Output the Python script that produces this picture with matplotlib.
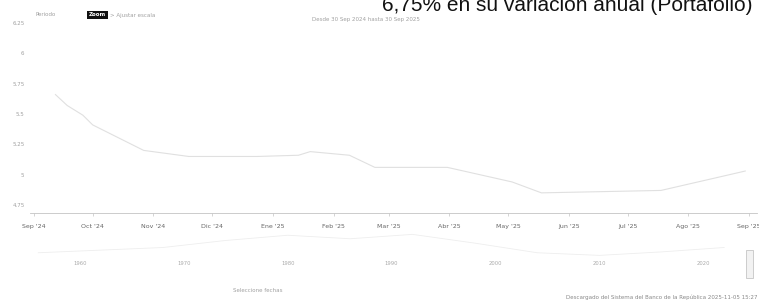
import matplotlib
matplotlib.use("Agg")
import matplotlib.pyplot as plt
from matplotlib.patches import Rectangle
from datetime import datetime

W, H = 759, 307

# serie principal (variación anual, %)
fechas = ["2024-09-12", "2024-09-18", "2024-09-26", "2024-10-01", "2024-10-27",
          "2024-11-19", "2024-12-24", "2025-01-14", "2025-01-20", "2025-02-09",
          "2025-02-22", "2025-03-31", "2025-05-03", "2025-05-18", "2025-07-18",
          "2025-08-22", "2025-08-30"]
valores = [5.66, 5.57, 5.49, 5.41, 5.20, 5.15, 5.15, 5.16, 5.19, 5.16,
           5.06, 5.06, 4.94, 4.85, 4.87, 5.00, 5.03]

meses = ["2024-09-01", "2024-10-01", "2024-11-01", "2024-12-01", "2025-01-01",
         "2025-02-01", "2025-03-01", "2025-04-01", "2025-05-01", "2025-06-01",
         "2025-07-01", "2025-08-01", "2025-09-01"]
etiquetas_meses = ["Sep '24", "Oct '24", "Nov '24", "Dic '24", "Ene '25", "Feb '25",
                   "Mar '25", "Abr '25", "May '25", "Jun '25", "Jul '25", "Ago '25",
                   "Sep '25"]
yticks = [4.75, 5, 5.25, 5.5, 5.75, 6, 6.25]
ytick_labels = ["4.75", "5", "5.25", "5.5", "5.75", "6", "6.25"]

# navegador (serie histórica, muy tenue)
nav_anios = [1956, 1962, 1968, 1974, 1980, 1986, 1992, 1998, 2004, 2010, 2016, 2022]
nav_valores = [6, 9, 12, 20, 26, 22, 27, 17, 6, 3, 7, 12]
nav_ticks = [1960, 1970, 1980, 1990, 2000, 2010, 2020]

titulo = "6,75% en su variación anual (Portafolio)"
GRIS = "#a0a0a0"


def px(x0, y0, x1, y1):
    return [x0 / W, 1 - y1 / H, (x1 - x0) / W, (y1 - y0) / H]


def ftext(x, y, s, **kw):
    fig.text(x / W, 1 - y / H, s, **kw)


fig = plt.figure(figsize=(W / 100, H / 100), dpi=100)
fig.patch.set_facecolor("white")

ax = fig.add_axes(px(30, 15, 757, 213))
ax.plot([datetime.fromisoformat(f) for f in fechas], valores, color="#e0e0e0", lw=0.8)
ax.set_ylim(4.684, 6.316)
ax.set_xlim(datetime(2024, 8, 30), datetime(2025, 9, 5))
ax.set_yticks(yticks)
ax.set_yticklabels(ytick_labels)
ax.set_xticks([datetime.fromisoformat(m) for m in meses])
ax.set_xticklabels(etiquetas_meses)
ax.tick_params(axis="y", length=0, pad=4, labelsize=4, labelcolor=GRIS)
ax.tick_params(axis="x", length=2, width=0.5, color="#c4c4c4", pad=6,
               labelsize=4.5, labelcolor="#666666")
for s in ["top", "right", "left"]:
    ax.spines[s].set_visible(False)
ax.spines["bottom"].set_color("#c4c4c4")
ax.spines["bottom"].set_linewidth(0.6)
ax.spines["bottom"].set_linestyle((0, (1, 1)))
ax.set_facecolor("none")

nav = fig.add_axes(px(30, 230, 745, 258))
nav.plot(nav_anios, nav_valores, color="#eeeeee", lw=0.6)
nav.set_xlim(1955.2, 2024)
nav.set_ylim(0, 32)
nav.set_xticks(nav_ticks)
nav.set_xticklabels([str(t) for t in nav_ticks])
nav.set_yticks([])
nav.tick_params(axis="x", length=0, pad=2, labelsize=3.8, labelcolor="#aaaaaa")
for s in nav.spines.values():
    s.set_visible(False)
nav.set_facecolor("none")

# barra de desplazamiento
fig.patches.append(Rectangle((746 / W, 1 - 278 / H), 7 / W, 28 / H,
                             transform=fig.transFigure, facecolor="#f2f2f2",
                             edgecolor="#bbbbbb", lw=0.5))

ftext(752, 11, titulo, ha="right", va="baseline", fontsize=15,
      family="Liberation Sans", color="#111111")
ftext(35, 15, "Periodo", fontsize=4, color=GRIS, va="center")
ftext(89, 15, "Zoom", fontsize=4, color="white", va="center", weight="bold",
      bbox=dict(boxstyle="square,pad=0.3", facecolor="#111111", edgecolor="none"))
ftext(110, 15, "> Ajustar escala", fontsize=4, color=GRIS, va="center")
ftext(312, 20, "Desde 30 Sep 2024 hasta 30 Sep 2025", fontsize=4, color=GRIS, va="center")
ftext(258, 290, "Seleccione fechas", fontsize=4, color=GRIS, ha="center", va="center")
ftext(757, 297, "Descargado del Sistema del Banco de la República 2025-11-05 15:27",
      fontsize=4, color="#888888", ha="right", va="center")

fig.savefig("out.png", dpi=100)
